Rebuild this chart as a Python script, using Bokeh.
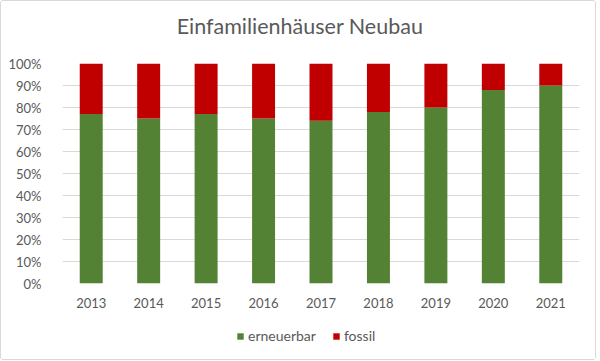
from bokeh.plotting import figure
from bokeh.layouts import column
from bokeh.models import ColumnDataSource, NumeralTickFormatter, FixedTicker, Legend, LegendItem, Range1d, Label
from bokeh.embed import file_html
from bokeh.resources import INLINE

years = ["2013", "2014", "2015", "2016", "2017", "2018", "2019", "2020", "2021"]
erneuerbar = [0.77, 0.75, 0.77, 0.75, 0.74, 0.78, 0.80, 0.88, 0.90]
fossil = [round(1 - v, 2) for v in erneuerbar]
series = ["erneuerbar", "fossil"]
colors = ["#548235", "#C00000"]
y_ticks = [0, 0.1, 0.2, 0.3, 0.4, 0.5, 0.6, 0.7, 0.8, 0.9, 1.0]
title_text = "Einfamilienhäuser Neubau"

src = ColumnDataSource(dict(years=years, erneuerbar=erneuerbar, fossil=fossil))

FONT = "Lato"
GRAY = "#595959"
W = 594


def strip(h):
    f = figure(width=W, height=h, x_range=years, y_range=Range1d(5, 6),
               output_backend="svg", toolbar_location=None,
               min_border_left=0, min_border_right=0, min_border_top=0, min_border_bottom=0)
    f.axis.visible = False
    f.grid.visible = False
    f.outline_line_color = None
    return f


# title strip (its frame is aligned with the chart frame by the column layout)
top = strip(54)
top.add_layout(Label(x=237.5, y=30, x_units="screen", y_units="screen", text=title_text,
                     text_align="center", text_baseline="alphabetic", text_font=FONT,
                     text_font_size="21.5px", text_color=GRAY))

# main chart
p = figure(x_range=years, y_range=Range1d(0, 1.0), width=W, height=269,
           output_backend="svg", toolbar_location=None,
           min_border_left=61, min_border_right=16, min_border_top=8, min_border_bottom=41)

p.vbar_stack(series, x="years", width=0.4, color=colors, source=src, line_color=None)

p.yaxis.ticker = FixedTicker(ticks=y_ticks)
p.yaxis.formatter = NumeralTickFormatter(format="0%")
for ax in (p.xaxis, p.yaxis):
    ax.axis_line_color = None
    ax.major_tick_line_color = None
    ax.minor_tick_line_color = None
    ax.major_label_text_font = FONT
    ax.major_label_text_font_size = "13px"
    ax.major_label_text_color = GRAY
p.xaxis.major_label_standoff = 8
p.yaxis.major_label_standoff = 15

p.xgrid.grid_line_color = None
p.ygrid.grid_line_color = "#D9D9D9"
p.outline_line_color = None
p.border_fill_color = "white"

# legend strip below the chart (its bars lie outside the visible y range)
leg = strip(35)
lr = leg.vbar_stack(series, x="years", width=0.4, color=colors, source=src, line_color=None)

legend = Legend(items=[LegendItem(label=s, renderers=[rr]) for s, rr in zip(series, lr)],
                orientation="horizontal", location=(174, 15),
                label_text_font=FONT, label_text_font_size="14px", label_text_color=GRAY,
                glyph_width=8, glyph_height=8, spacing=16, label_standoff=4,
                border_line_color=None, background_fill_alpha=0, padding=0, margin=0)
leg.add_layout(legend, "center")

layout = column(top, p, leg, spacing=0,
                styles={"border": "1px solid #D9D9D9", "border-radius": "3px"})

open("out.html", "w").write(file_html(layout, INLINE))
